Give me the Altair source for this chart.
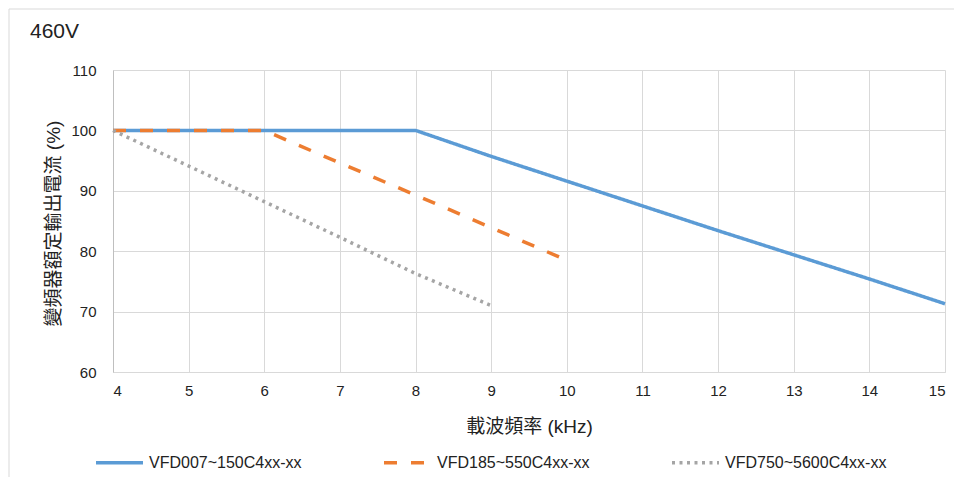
import altair as alt
import pandas as pd

series_names = ["VFD007~150C4xx-xx", "VFD185~550C4xx-xx", "VFD750~5600C4xx-xx"]

blue_x = [4, 5, 6, 7, 8, 9, 10, 11, 12, 13, 14, 15]
blue_y = [100, 100, 100, 100, 100, 95.7, 91.6, 87.5, 83.4, 79.4, 75.4, 71.3]
orange_x = [4, 5, 6, 7, 8, 9, 10]
orange_y = [100, 100, 100, 94.6, 89.3, 83.9, 78.5]
grey_x = [4, 5, 6, 7, 8, 9]
grey_y = [100, 94.1, 88.2, 82.3, 76.3, 71.0]

x_ticks = list(range(4, 16))
y_ticks = [60, 70, 80, 90, 100, 110]

colors = ["#5b9bd5", "#ed7d31", "#a5a5a5"]
dashes = [[1, 0], [13, 14], [3, 4.5]]

rows = []
for name, xs, ys in zip(series_names, [blue_x, orange_x, grey_x], [blue_y, orange_y, grey_y]):
    for xv, yv in zip(xs, ys):
        rows.append({"series": name, "x": xv, "y": yv})
df = pd.DataFrame(rows)

font = "Liberation Sans, Noto Sans CJK TC"
txt = "#222222"
grid = "#d9d9d9"

legend = alt.Legend(
    title=None, orient="none", legendX=-19, legendY=367, direction="horizontal",
    symbolType="stroke", symbolSize=2209, symbolStrokeWidth=3.5,
    labelFont=font, labelFontSize=16, labelColor=txt, columnPadding=75,
    labelOffset=4, padding=0, labelLimit=300,
)

lines = alt.Chart(df).mark_line(strokeWidth=3.5, strokeJoin="round").encode(
    x=alt.X("x:Q", scale=alt.Scale(domain=[4, 15], nice=False, zero=False),
            axis=alt.Axis(values=x_ticks, title="載波頻率 (kHz)", format="d",
                          labelFont=font, labelFontSize=15, labelColor=txt, labelPadding=11,
                          ticks=False, grid=True, gridColor=grid, domainColor=grid,
                          titleFont=font, titleFontSize=19, titleFontWeight="normal", titleColor=txt,
                          titleY=60, titleBaseline="alphabetic")),
    y=alt.Y("y:Q", scale=alt.Scale(domain=[60, 110], nice=False, zero=False),
            axis=alt.Axis(values=y_ticks, title="變頻器額定輸出電流 (%)",
                          labelFont=font, labelFontSize=15, labelColor=txt, labelPadding=17,
                          ticks=False, grid=True, gridColor=grid, domainColor="#bfbfbf",
                          titleFont=font, titleFontSize=19, titleFontWeight="normal", titleColor=txt,
                          titleX=-54, titleY=153, titleBaseline="alphabetic")),
    color=alt.Color("series:N", scale=alt.Scale(domain=series_names, range=colors), legend=legend),
    strokeDash=alt.StrokeDash("series:N", scale=alt.Scale(domain=series_names, range=dashes), legend=legend),
    order="x:Q",
)

one = pd.DataFrame({"a": [0]})
border_top = alt.Chart(one).mark_rule(color=grid, strokeWidth=1).encode(
    x=alt.value(-104), x2=alt.value(849), y=alt.value(-61))
border_left = alt.Chart(one).mark_rule(color=grid, strokeWidth=1).encode(
    x=alt.value(-104), y=alt.value(-61), y2=alt.value(420))

chart = alt.layer(border_top, border_left, lines).properties(
    width=832, height=302,
    autosize=alt.AutoSizeParams(type="none"),
    padding={"left": 105, "top": 62, "right": 9, "bottom": 105},
    title=alt.TitleParams("460V", anchor="start", frame="group", dx=-83, offset=0, dy=50,
                          font=font, fontSize=21, fontWeight="normal", color=txt,
                          baseline="alphabetic"),
).configure_view(strokeWidth=0)

chart.save("out.html", embed_options={"renderer": "svg", "actions": False})
